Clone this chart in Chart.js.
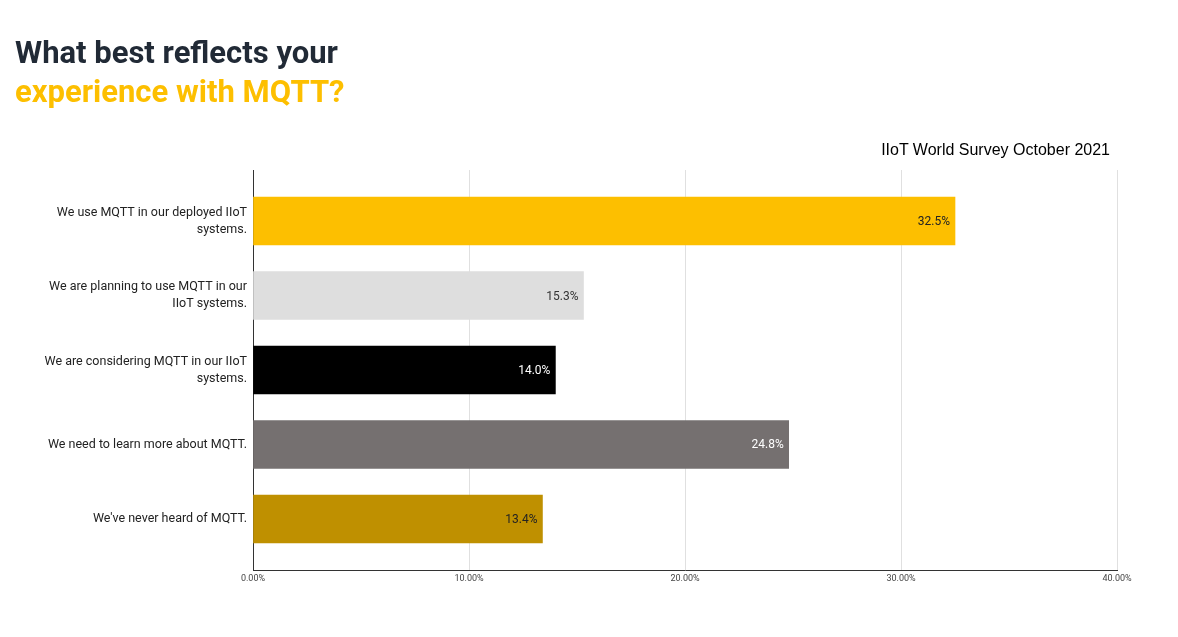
<!DOCTYPE html>
<html>
<head>
<meta charset="utf-8">
<script src="https://cdn.jsdelivr.net/npm/chart.js@4"></script>
<style>
  body { margin: 0; background: #fff; font-family: Roboto, sans-serif; }
  #wrap { position: relative; width: 1178px; height: 637px; }
  #title { position: absolute; left: 15px; top: 33px; font-size: 31px; font-weight: 700; line-height: 39px; color: #212a36; }
  #title span { color: #fdbf00; }
  #source { position: absolute; right: 68px; top: 141px; font-size: 16px; font-family: Arial, "Liberation Sans", sans-serif; color: #000; }
  canvas { position: absolute; left: 0; top: 0; }
</style>
</head>
<body>
<div id="wrap">
  <canvas id="chart" width="1178" height="637"></canvas>
  <div id="title">What best reflects your<br><span>experience with MQTT?</span></div>
  <div id="source">IIoT World Survey October 2021</div>
</div>
<script>
const categories = [
    ["We use MQTT in our deployed IIoT", "systems."],
    ["We are planning to use MQTT in our", "IIoT systems."],
    ["We are considering MQTT in our IIoT", "systems."],
    ["We need to learn more about MQTT."],
    ["We've never heard of MQTT."]
];
const values = [32.5, 15.3, 14.0, 24.8, 13.4];
const barColors = ['#fdbf00', '#dedede', '#000000', '#757070', '#bf9000'];
const labelColors = ['#222', '#333', '#fff', '#fff', '#222'];
const xTicks = ['0.00%', '10.00%', '20.00%', '30.00%', '40.00%'];

// draw value labels inside bar ends
const valueLabels = {
    id: 'valueLabels',
    afterDatasetsDraw(chart) {
        const ctx = chart.ctx;
        const meta = chart.getDatasetMeta(0);
        ctx.save();
        ctx.font = '12px Roboto, sans-serif';
        ctx.textAlign = 'right';
        ctx.textBaseline = 'middle';
        meta.data.forEach((bar, i) => {
            ctx.fillStyle = labelColors[i];
            ctx.fillText(values[i].toFixed(1) + '%', bar.x - 5, bar.y + 1);
        });
        ctx.restore();
    }
};

new Chart(document.getElementById('chart'), {
    type: 'bar',
    data: {
        datasets: [{
            data: values.map((v, i) => ({ x: v, y: i })),
            backgroundColor: barColors,
            barThickness: 48
        }]
    },
    options: {
        indexAxis: 'y',
        responsive: false,
        animation: false,
        layout: { padding: { top: 170, right: 61, bottom: 47, left: 0 } },
        plugins: { legend: { display: false }, tooltip: { enabled: false } },
        scales: {
            x: {
                type: 'linear',
                min: 0, max: 40,
                ticks: {
                    stepSize: 10,
                    color: '#444',
                    font: { size: 9, family: 'Roboto, sans-serif' },
                    callback: (v, i) => xTicks[i]
                },
                grid: { color: '#e0e0e0', drawTicks: false },
                border: { color: '#333' },
                afterFit: s => { s.height = 20; }
            },
            y: {
                type: 'linear',
                reverse: true,
                offset: false,
                min: -0.685, max: 4.685,
                afterBuildTicks: s => { s.ticks = categories.map((c, i) => ({ value: i })); },
                ticks: {
                    color: '#222',
                    font: { size: 12.5, family: 'Roboto, sans-serif', lineHeight: 1.35 },
                    padding: -2,
                    callback: v => categories[v]
                },
                grid: { display: false, offset: false },
                border: { color: '#333' },
                afterFit: s => { s.width = 253; }
            }
        }
    },
    plugins: [valueLabels]
});
</script>
</body>
</html>
